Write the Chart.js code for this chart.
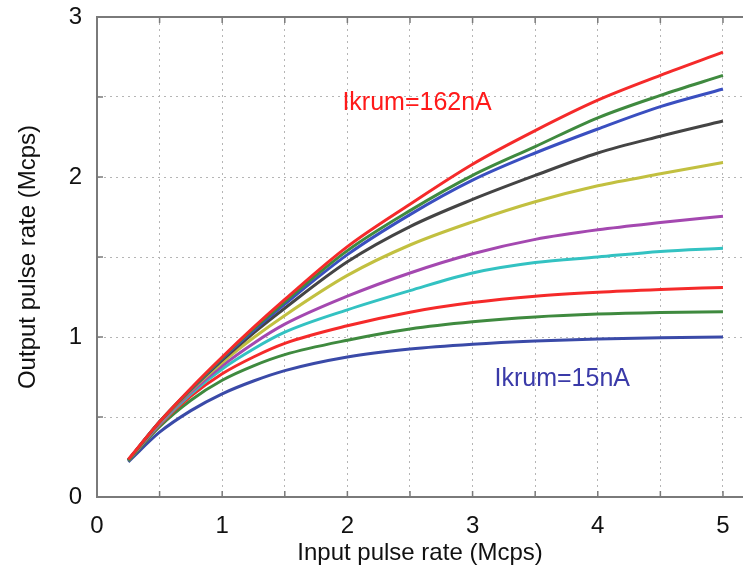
<!DOCTYPE html>
<html>
<head>
<meta charset="utf-8">
<script src="https://cdn.jsdelivr.net/npm/chart.js@4/dist/chart.umd.min.js"></script>
<style>
html,body{margin:0;padding:0;background:#fff;}
#wrap{width:743px;height:570px;}
</style>
</head>
<body>
<div id="wrap"><canvas id="chart" width="743" height="570"></canvas></div>
<script>
// input pulse rate (Mcps)
const inputRate=[0.25,0.5,0.75,1,1.25,1.5,2,2.5,3,3.5,4,4.5,5];

// output pulse rate per Ikrum setting, top (162nA) to bottom (15nA)
const red1  =[0.235,0.47,0.68,0.875,1.06,1.235,1.565,1.83,2.08,2.29,2.48,2.635,2.78];
const green1=[0.23,0.47,0.675,0.87,1.05,1.22,1.54,1.79,2.01,2.19,2.37,2.51,2.635];
const blue1 =[0.23,0.47,0.672,0.865,1.04,1.205,1.515,1.765,1.98,2.15,2.30,2.44,2.55];
const black =[0.23,0.47,0.67,0.855,1.025,1.18,1.47,1.69,1.86,2.01,2.15,2.255,2.35];
const olive =[0.23,0.465,0.665,0.84,0.995,1.135,1.385,1.575,1.72,1.845,1.945,2.02,2.09];
const purple=[0.23,0.46,0.655,0.82,0.96,1.08,1.255,1.40,1.52,1.61,1.67,1.715,1.755];
const cyan  =[0.23,0.455,0.645,0.80,0.925,1.03,1.17,1.29,1.40,1.465,1.50,1.535,1.555];
const red2  =[0.23,0.45,0.63,0.77,0.875,0.96,1.07,1.155,1.215,1.255,1.28,1.297,1.31];
const green2=[0.225,0.44,0.605,0.73,0.82,0.89,0.98,1.05,1.095,1.125,1.143,1.153,1.158];
const blue2 =[0.22,0.405,0.54,0.645,0.725,0.79,0.875,0.925,0.955,0.975,0.988,0.996,1.0];

const xTickLabels=["0","1","2","3","4","5"];
const yTickLabels=["0","1","2","3"];

const series=[
  {d:red1,c:"#f52a2a"},
  {d:green1,c:"#3f8a3f"},
  {d:blue1,c:"#3a4fc0"},
  {d:black,c:"#444444"},
  {d:olive,c:"#c2c040"},
  {d:purple,c:"#a448b0"},
  {d:cyan,c:"#33c2c2"},
  {d:red2,c:"#f52a2a"},
  {d:green2,c:"#3f8a3f"},
  {d:blue2,c:"#3a4aa8"}
];

const font="'Liberation Sans', Arial, sans-serif";

const frame={
  id:"frame",
  afterDatasetsDraw(chart){
    const {ctx,chartArea:a,scales:{x,y}}=chart;
    ctx.save();
    ctx.strokeStyle="#7a7a7a";
    ctx.lineWidth=2;
    // top line
    ctx.beginPath();
    ctx.moveTo(a.left,a.top);ctx.lineTo(a.right,a.top);
    ctx.stroke();
    // inner tick marks
    ctx.lineWidth=1.5;
    for(let v=0.5;v<=5;v+=0.5){
      const px=x.getPixelForValue(v);
      ctx.beginPath();
      ctx.moveTo(px,a.bottom);ctx.lineTo(px,a.bottom-6);
      ctx.moveTo(px,a.top);ctx.lineTo(px,a.top+6);
      ctx.stroke();
    }
    for(let v=0.5;v<3;v+=0.5){
      const py=y.getPixelForValue(v);
      ctx.beginPath();
      ctx.moveTo(a.left,py);ctx.lineTo(a.left+6,py);
      ctx.stroke();
    }
    // labels
    ctx.font="25px "+font;
    ctx.textBaseline="alphabetic";
    ctx.fillStyle="#ff1a1a";
    ctx.fillText("Ikrum=162nA",x.getPixelForValue(1.96),y.getPixelForValue(2.42));
    ctx.fillStyle="#3a3aa8";
    ctx.fillText("Ikrum=15nA",x.getPixelForValue(3.175),y.getPixelForValue(0.694));
    ctx.restore();
  }
};

new Chart(document.getElementById("chart"),{
  type:"line",
  data:{
    labels:inputRate,
    datasets:series.map(s=>({
      data:s.d.map((v,i)=>({x:inputRate[i],y:v})),
      borderColor:s.c,
      borderWidth:3,
      pointRadius:0,
      fill:false,
      cubicInterpolationMode:"monotone"
    }))
  },
  options:{
    responsive:false,
    animation:false,
    layout:{padding:{top:17,right:0,left:0,bottom:0}},
    plugins:{legend:{display:false},tooltip:{enabled:false}},
    scales:{
      x:{
        type:"linear",
        min:0,max:5.16,
        afterFit(s){s.height=73;s.paddingLeft=0;s.paddingRight=0;},
        afterBuildTicks(s){
          const t=[];
          for(let i=0;i<=10;i++)t.push({value:i/2});
          s.ticks=t;
        },
        ticks:{
          autoSkip:false,
          maxRotation:0,
          padding:15,
          color:"#111",
          font:{family:font,size:24},
          callback:v=>Number.isInteger(v)?xTickLabels[v]:""
        },
        grid:{color:"#b5b5b5",lineWidth:1,drawTicks:false},
        border:{display:true,color:"#7a7a7a",width:2,dash:[2,4]},
        title:{display:true,text:"Input pulse rate (Mcps)",color:"#111",font:{family:font,size:24},padding:{top:0,bottom:2}}
      },
      y:{
        min:0,max:3,
        afterFit(s){s.width=97;s.paddingTop=0;s.paddingBottom=0;},
        ticks:{
          stepSize:0.5,
          autoSkip:false,
          padding:15,
          color:"#111",
          font:{family:font,size:24},
          callback:v=>Number.isInteger(v)?yTickLabels[v]:""
        },
        grid:{color:"#b5b5b5",lineWidth:1,drawTicks:false},
        border:{display:true,color:"#7a7a7a",width:2,dash:[2,4]},
        title:{display:true,text:"Output pulse rate (Mcps)",color:"#111",font:{family:font,size:24},padding:{top:14,bottom:0}}
      }
    }
  },
  plugins:[frame]
});
</script>
</body>
</html>
